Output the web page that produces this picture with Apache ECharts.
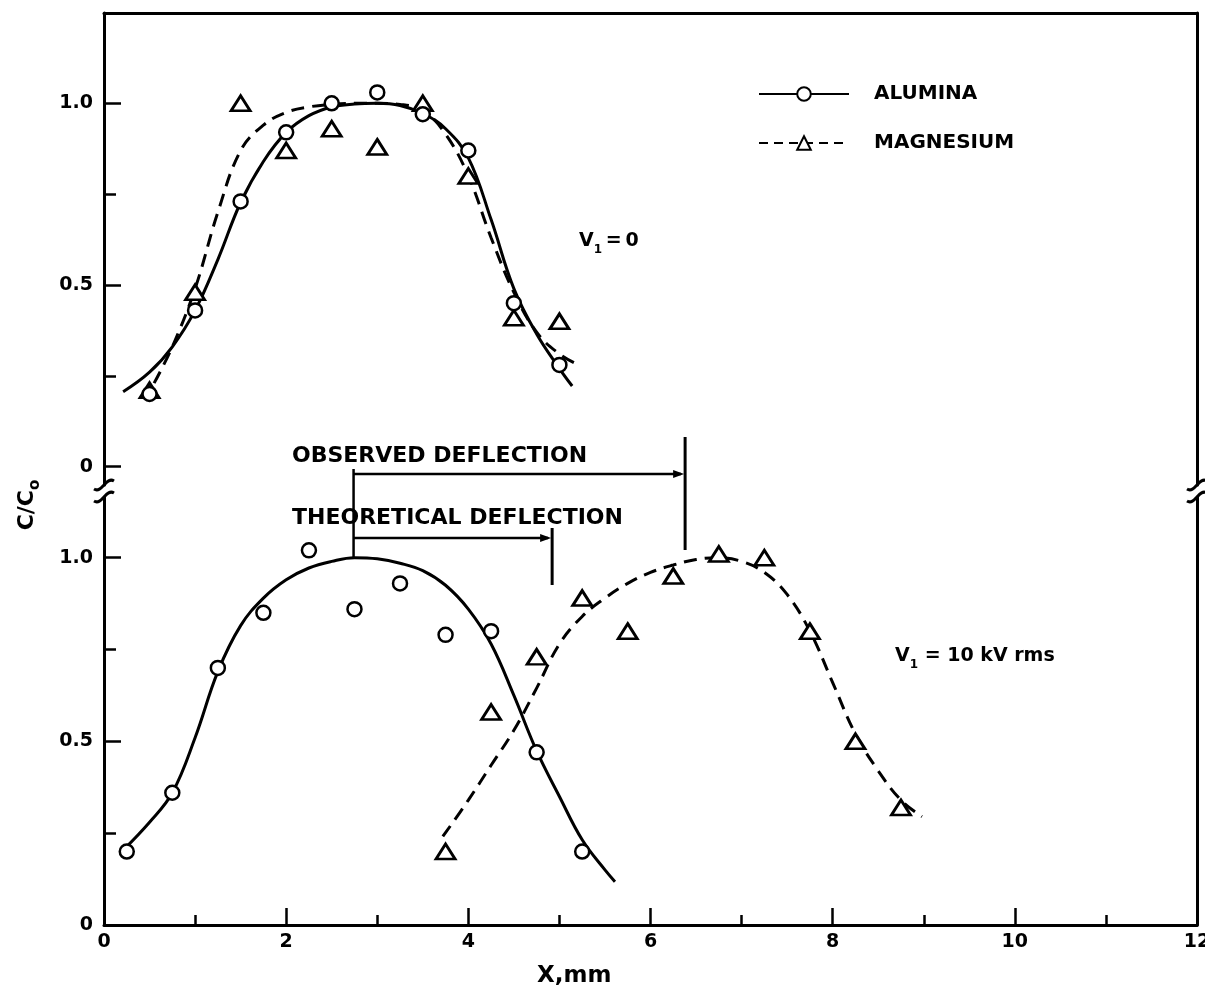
<!DOCTYPE html>
<html><head><meta charset="utf-8">
<script src="https://cdn.jsdelivr.net/npm/echarts@6/dist/echarts.min.js"></script>
<style>html,body{margin:0;padding:0;background:#fff}#c{width:1205px;height:994px}</style>
</head><body><div id="c"></div>
<script>
// ---- axis ticks / labels ----
const xTicks = [0, 2, 4, 6, 8, 10, 12];
const xMinorTicks = [1, 3, 5, 7, 9, 11];
const yTicks = [0, 0.5, 1.0];
const yMinorTicks = [0.25, 0.75];
const yTickLabels = ['0', '0.5', '1.0'];

// ---- upper panel (V1 = 0) ----
const upAluminaX = [0.5, 1.0, 1.5, 2.0, 2.5, 3.0, 3.5, 4.0, 4.5, 5.0];
const upAluminaY = [0.20, 0.43, 0.73, 0.92, 1.00, 1.03, 0.97, 0.87, 0.45, 0.28];
const upMagX = [0.5, 1.0, 1.5, 2.0, 2.5, 3.0, 3.5, 4.0, 4.5, 5.0];
const upMagY = [0.21, 0.48, 1.00, 0.87, 0.93, 0.88, 1.00, 0.80, 0.41, 0.40];
const upAluminaCurveX = [0.21, 0.5, 0.75, 1.0, 1.25, 1.5, 1.75, 2.0, 2.25, 2.5, 2.75, 3.0, 3.25, 3.5, 3.75, 4.0, 4.25, 4.5, 4.75, 5.0, 5.14];
const upAluminaCurveY = [0.206, 0.26, 0.33, 0.43, 0.57, 0.727, 0.84, 0.92, 0.966, 0.99, 0.998, 1.0, 0.994, 0.972, 0.93, 0.85, 0.68, 0.49, 0.365, 0.27, 0.222];
const upMagCurveX = [0.55, 0.75, 1.0, 1.25, 1.5, 1.75, 2.0, 2.25, 2.5, 2.75, 3.0, 3.25, 3.5, 3.75, 4.0, 4.25, 4.5, 4.75, 5.0, 5.21];
const upMagCurveY = [0.23, 0.33, 0.49, 0.70, 0.87, 0.94, 0.975, 0.99, 0.997, 1.0, 1.0, 0.997, 0.98, 0.915, 0.80, 0.63, 0.48, 0.37, 0.31, 0.28];

// ---- lower panel (V1 = 10 kV rms) ----
const loAluminaX = [0.25, 0.75, 1.25, 1.75, 2.25, 2.75, 3.25, 3.75, 4.25, 4.75, 5.25];
const loAluminaY = [0.20, 0.36, 0.70, 0.85, 1.02, 0.86, 0.93, 0.79, 0.80, 0.47, 0.20];
const loMagX = [3.75, 4.25, 4.75, 5.25, 5.75, 6.25, 6.75, 7.25, 7.75, 8.25, 8.75];
const loMagY = [0.20, 0.58, 0.73, 0.89, 0.80, 0.95, 1.01, 1.00, 0.80, 0.50, 0.32];
const loAluminaCurveX = [0.21, 0.5, 0.75, 1.0, 1.25, 1.5, 1.75, 2.0, 2.25, 2.5, 2.75, 3.0, 3.25, 3.5, 3.75, 4.0, 4.25, 4.5, 4.75, 5.0, 5.25, 5.5, 5.61];
const loAluminaCurveY = [0.204, 0.28, 0.36, 0.51, 0.69, 0.815, 0.89, 0.94, 0.972, 0.99, 1.0, 0.997, 0.985, 0.965, 0.925, 0.86, 0.765, 0.625, 0.474, 0.35, 0.232, 0.15, 0.118];
const loMagCurveX = [3.72, 4.0, 4.25, 4.5, 4.75, 5.0, 5.25, 5.5, 5.75, 6.0, 6.25, 6.5, 6.75, 7.0, 7.25, 7.5, 7.75, 8.0, 8.25, 8.5, 8.75, 8.98];
const loMagCurveY = [0.241, 0.34, 0.435, 0.53, 0.645, 0.765, 0.84, 0.89, 0.93, 0.96, 0.98, 0.995, 1.0, 0.99, 0.96, 0.90, 0.80, 0.66, 0.52, 0.42, 0.34, 0.295];

// ---- deflection annotation (x positions, mm) ----
const deflectionStartX = 2.74;
const observedEndX = 6.38;
const theoreticalEndX = 4.92;

const FONT = 'DejaVu Sans';
const pair = (xs, ys) => xs.map((x, i) => [x, ys[i]]);

const chart = echarts.init(document.getElementById('c'), null, {renderer: 'canvas'});

const lineAxis = {onZero: false, lineStyle: {color: '#000', width: 3}};
const noTick = {show: false};
const noLabel = {show: false};
const tickStyle = {lineStyle: {color: '#000', width: 2.5}};

const labelFmt = v => {
  const i = yTicks.findIndex(t => Math.abs(t - v) < 1e-6);
  return i >= 0 ? yTickLabels[i] : '';
};

const circleItem = {color: '#fff', borderColor: '#000', borderWidth: 2.5, opacity: 1};
const triItem = {color: '#fff', borderColor: '#000', borderWidth: 2.8, opacity: 1};
const solid = {color: '#000', width: 3, type: 'solid'};
const dashed = {color: '#000', width: 3, type: [13, 8]};
const tickFont = {show: true, color: '#000', fontFamily: FONT, fontWeight: 'bold', fontSize: 19};

const option = {
  animation: false,
  backgroundColor: '#fff',
  grid: [
    {left: 104, right: 8, top: 13, height: 472, containLabel: false, outerBoundsMode: 'none'},
    {left: 104, right: 8, top: 497, height: 428, containLabel: false, outerBoundsMode: 'none'}
  ],
  xAxis: [
    {gridIndex: 0, type: 'value', position: 'top', min: 0, max: 12,
     axisLine: lineAxis, axisTick: noTick, axisLabel: noLabel, splitLine: {show: false}},
    {gridIndex: 1, type: 'value', position: 'bottom', min: 0, max: 12,
     axisLine: lineAxis,
     axisTick: Object.assign({show: true, inside: true, length: 17, customValues: xTicks}, tickStyle),
     axisLabel: Object.assign({customValues: xTicks, margin: 8}, tickFont),
     splitLine: {show: false}},
    {gridIndex: 1, type: 'value', position: 'bottom', min: 0, max: 12,
     axisLine: {show: false},
     axisTick: Object.assign({show: true, inside: true, length: 10, customValues: xMinorTicks}, tickStyle),
     axisLabel: noLabel, splitLine: {show: false}}
  ],
  yAxis: [
    {gridIndex: 0, type: 'value', position: 'left', min: -0.0504, max: 1.2485,
     axisLine: lineAxis,
     axisTick: Object.assign({show: true, inside: true, length: 17, customValues: yTicks}, tickStyle),
     axisLabel: Object.assign({customValues: yTicks, formatter: labelFmt, margin: 11}, tickFont),
     splitLine: {show: false}},
    {gridIndex: 0, type: 'value', position: 'left', min: -0.0504, max: 1.2485,
     axisLine: {show: false},
     axisTick: Object.assign({show: true, inside: true, length: 12, customValues: yMinorTicks}, tickStyle),
     axisLabel: noLabel, splitLine: {show: false}},
    {gridIndex: 0, type: 'value', position: 'right', min: -0.0504, max: 1.2485,
     axisLine: lineAxis, axisTick: noTick, axisLabel: noLabel, splitLine: {show: false}},
    {gridIndex: 1, type: 'value', position: 'left', min: 0, max: 1.1653,
     axisLine: lineAxis,
     axisTick: Object.assign({show: true, inside: true, length: 17, customValues: yTicks}, tickStyle),
     axisLabel: Object.assign({customValues: yTicks, formatter: labelFmt, margin: 11}, tickFont),
     splitLine: {show: false}},
    {gridIndex: 1, type: 'value', position: 'left', min: 0, max: 1.1653,
     axisLine: {show: false},
     axisTick: Object.assign({show: true, inside: true, length: 12, customValues: yMinorTicks}, tickStyle),
     axisLabel: noLabel, splitLine: {show: false}},
    {gridIndex: 1, type: 'value', position: 'right', min: 0, max: 1.1653,
     axisLine: lineAxis, axisTick: noTick, axisLabel: noLabel, splitLine: {show: false}}
  ],
  legend: {
    orient: 'vertical', left: 758, top: 84, padding: 0, itemWidth: 90, itemHeight: 17, itemGap: 29,
    data: ['ALUMINA', 'MAGNESIUM'],
    selectedMode: false,
    textStyle: {color: '#000', fontFamily: FONT, fontWeight: 'bold', fontSize: 20, padding: [0, 0, 0, 20]}
  },
  series: [
    {name: 'ALUMINA', type: 'line', xAxisIndex: 0, yAxisIndex: 0, data: [],
     symbol: 'circle', symbolSize: 14, itemStyle: circleItem, lineStyle: solid},
    {name: 'MAGNESIUM', type: 'line', xAxisIndex: 0, yAxisIndex: 0, data: [],
     symbol: 'triangle', symbolSize: 14, itemStyle: triItem, lineStyle: {color: '#000', width: 3, type: [9, 6]}},

    {name: 'upAluminaCurve', type: 'line', xAxisIndex: 0, yAxisIndex: 0, smooth: 0.4,
     data: pair(upAluminaCurveX, upAluminaCurveY), symbol: 'none', lineStyle: solid, z: 2},
    {name: 'upMagCurve', type: 'line', xAxisIndex: 0, yAxisIndex: 0, smooth: 0.4,
     data: pair(upMagCurveX, upMagCurveY), symbol: 'none', lineStyle: dashed, z: 2},
    {name: 'upAlumina', type: 'scatter', xAxisIndex: 0, yAxisIndex: 0,
     data: pair(upAluminaX, upAluminaY), symbol: 'circle', symbolSize: 14, itemStyle: circleItem, z: 4},
    {name: 'upMag', type: 'scatter', xAxisIndex: 0, yAxisIndex: 0,
     data: pair(upMagX, upMagY), symbol: 'triangle', symbolSize: [19, 15], itemStyle: triItem, z: 3},

    {name: 'loAluminaCurve', type: 'line', xAxisIndex: 1, yAxisIndex: 3, smooth: 0.4,
     data: pair(loAluminaCurveX, loAluminaCurveY), symbol: 'none', lineStyle: solid, z: 2},
    {name: 'loMagCurve', type: 'line', xAxisIndex: 1, yAxisIndex: 3, smooth: 0.4,
     data: pair(loMagCurveX, loMagCurveY), symbol: 'none', lineStyle: dashed, z: 2},
    {name: 'loAlumina', type: 'scatter', xAxisIndex: 1, yAxisIndex: 3,
     data: pair(loAluminaX, loAluminaY), symbol: 'circle', symbolSize: 14, itemStyle: circleItem, z: 4},
    {name: 'loMag', type: 'scatter', xAxisIndex: 1, yAxisIndex: 3,
     data: pair(loMagX, loMagY), symbol: 'triangle', symbolSize: [19, 15], itemStyle: triItem, z: 3}
  ]
};
chart.setOption(option);

// ---- annotations positioned through the axes ----
const lo = {xAxisIndex: 1, yAxisIndex: 3};
const xs = chart.convertToPixel(lo, [deflectionStartX, 0])[0];
const xo = chart.convertToPixel(lo, [observedEndX, 0])[0];
const xt = chart.convertToPixel(lo, [theoreticalEndX, 0])[0];
const peakY = chart.convertToPixel(lo, [0, 1.0])[1];
const L = chart.convertToPixel(lo, [0, 0])[0];
const R = chart.convertToPixel(lo, [12, 0])[0];
const upBottom = 485, loTop = 497;

const g = [];
function seg(x1, y1, x2, y2, w) {
  g.push({type: 'line', shape: {x1, y1, x2, y2}, style: {stroke: '#000', lineWidth: w || 2.5}, z: 10});
}
function arrow(xe, y) {
  g.push({type: 'polygon', shape: {points: [[xe - 11, y - 4], [xe, y], [xe - 11, y + 4]]}, style: {fill: '#000'}, z: 10});
}
// observed
seg(xs, 469, xs, peakY);
seg(xs, 474, xo - 4, 474);
arrow(xo - 1, 474);
seg(xo, 437, xo, 550, 3);
// theoretical
seg(xs, 538, xt - 4, 538);
arrow(xt - 1, 538);
seg(xt, 528, xt, 585, 3);

// axis breaks
[L, R].forEach(ax => {
  [upBottom, loTop].forEach(yc => {
    g.push({type: 'bezierCurve', z: 10,
      shape: {x1: ax - 10, y1: yc + 4, cpx1: ax - 2, cpy1: yc + 9, cpx2: ax + 2, cpy2: yc - 9, x2: ax + 10, y2: yc - 4},
      style: {stroke: '#000', lineWidth: 3, fill: null}});
  });
});

const tStyle = (text, size) => ({text, fill: '#000', font: 'bold ' + size + 'px "' + FONT + '"'});
g.push({type: 'text', x: 292, y: 456, z: 10, style: Object.assign(tStyle('OBSERVED DEFLECTION', 22), {verticalAlign: 'middle'})});
g.push({type: 'text', x: 292, y: 518, z: 10, style: Object.assign(tStyle('THEORETICAL DEFLECTION', 22), {verticalAlign: 'middle'})});

const richV = {
  v: {fontFamily: FONT, fontWeight: 'bold', fontSize: 19, color: '#000', verticalAlign: 'middle'},
  s: {fontFamily: FONT, fontWeight: 'bold', fontSize: 12, color: '#000', verticalAlign: 'bottom', lineHeight: 30}
};
g.push({type: 'text', x: 579, y: 241, z: 10,
  style: {text: '{v|V}{s|1}{v|\u2009=\u20090}', rich: richV, verticalAlign: 'middle'}});
g.push({type: 'text', x: 895, y: 656, z: 10,
  style: {text: '{v|V}{s|1}{v| = 10 kV rms}', rich: richV, verticalAlign: 'middle'}});

// axis titles
g.push({type: 'text', x: 537, y: 976, z: 10, style: Object.assign(tStyle('X,mm', 23), {verticalAlign: 'middle'})});
g.push({type: 'text', x: 27, y: 505, rotation: Math.PI / 2, z: 10,
  style: {text: '{n|C/C}{s|o}', align: 'center', verticalAlign: 'middle',
    rich: {n: {fontFamily: FONT, fontWeight: 'bold', fontSize: 22, color: '#000', verticalAlign: 'middle'},
           s: {fontFamily: FONT, fontWeight: 'bold', fontSize: 15, color: '#000', verticalAlign: 'bottom', lineHeight: 32}}}});

chart.setOption({graphic: g});
</script>
</body></html>
